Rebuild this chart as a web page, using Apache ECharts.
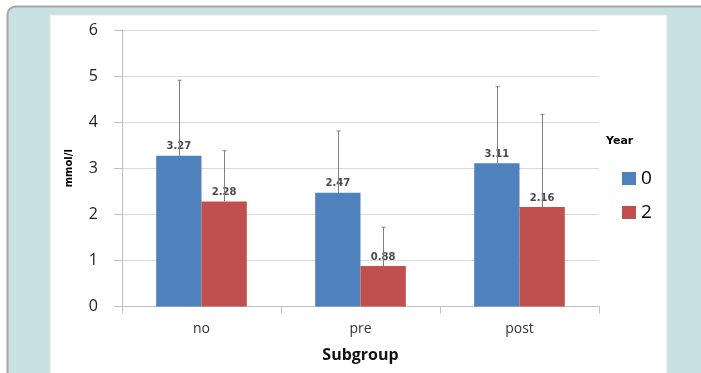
<!DOCTYPE html>
<html><head><meta charset="utf-8">
<script src="https://cdn.jsdelivr.net/npm/echarts@6/dist/echarts.min.js"></script>
<style>html,body{margin:0;padding:0;background:#fff}#c{width:701px;height:373px}</style>
</head><body><div id="c"></div>
<script>
var categories = ['no', 'pre', 'post'];
var seriesNames = ['0', '2'];
var year0 = [3.27, 2.47, 3.11];
var year2 = [2.28, 0.88, 2.16];
var year0Upper = [4.91, 3.81, 4.77];
var year2Upper = [3.38, 1.72, 4.17];
var yTicks = [0, 1, 2, 3, 4, 5, 6];

var GAP = 0.43;
function errSeries(upper, vals, idx) {
  return {
    type: 'custom', z: 5, silent: true,
    data: categories.map(function (c, i) { return [i, vals[i], upper[i]]; }),
    renderItem: function (params, api) {
      var band = api.size([1, 0])[0];
      var bw = band * (1 - GAP) / 2;
      var off = (idx === 0 ? -1 : 1) * bw / 2;
      var p0 = api.coord([api.value(0), api.value(1)]);
      var p1 = api.coord([api.value(0), api.value(2)]);
      var x = Math.round(p0[0] + off) + 0.5;
      return { type: 'group', children: [
        { type: 'line', shape: { x1: x, y1: p0[1], x2: x, y2: p1[1] }, style: { stroke: '#7f7f7f', lineWidth: 1 } },
        { type: 'line', shape: { x1: x - 2, y1: p1[1], x2: x + 2, y2: p1[1] }, style: { stroke: '#7f7f7f', lineWidth: 1 } }
      ]};
    }
  };
}
var lbl = { show: true, position: 'top', distance: 4, fontFamily: 'DejaVu Sans', fontWeight: 'bold', fontSize: 10, color: '#4a4a4a' };
var chart = echarts.init(document.getElementById('c'));
chart.setOption({
  animation: false,
  graphic: [
    { type: 'rect', z: -10, shape: { x: 7.5, y: 6.5, width: 720, height: 400, r: 8 }, style: { fill: '#c7e1e4', stroke: '#a6a6a6', lineWidth: 2 } },
    { type: 'rect', z: -9, shape: { x: 50, y: 15, width: 617, height: 370 }, style: { fill: '#ffffff', stroke: '#e6e6e6', lineWidth: 1 } },
    { type: 'text', left: 606, top: 136, style: { text: 'Year', fontFamily: 'DejaVu Sans', fontWeight: 'bold', fontSize: 11, fill: '#000' } }
  ],
  grid: { left: 122, right: 102, top: 30, bottom: 66.5 },
  legend: {
    orient: 'vertical', left: 617, top: 162, itemWidth: 14, itemHeight: 13, itemGap: 11,
    icon: 'rect', data: seriesNames,
    textStyle: { fontFamily: 'Open Sans', fontSize: 19, color: '#000', lineHeight: 23 }
  },
  xAxis: {
    type: 'category', data: categories,
    name: 'Subgroup', nameLocation: 'middle', nameGap: 41,
    nameTextStyle: { fontFamily: 'Open Sans', fontWeight: 'bold', fontSize: 16, color: '#111' },
    axisLine: { lineStyle: { color: '#bfbfbf' } },
    axisTick: { show: true, length: 7, lineStyle: { color: '#bfbfbf' } },
    axisLabel: { margin: 16, fontFamily: 'Open Sans', fontSize: 14, color: '#333' }
  },
  yAxis: {
    type: 'value', min: 0, max: 6, interval: 1,
    name: 'mmol/l', nameLocation: 'middle', nameGap: 48, nameRotate: 90,
    nameTextStyle: { fontFamily: 'DejaVu Sans', fontWeight: 'bold', fontSize: 10, color: '#000' },
    axisLine: { show: true, lineStyle: { color: '#bfbfbf' } },
    axisTick: { show: true, length: 8, lineStyle: { color: '#bfbfbf' } },
    splitLine: { lineStyle: { color: '#d9d9d9' } },
    axisLabel: { margin: 24, fontFamily: 'Open Sans', fontSize: 16, color: '#222',
      formatter: function (v) { return yTicks.indexOf(v) >= 0 ? String(v) : ''; } }
  },
  series: [
    { name: seriesNames[0], type: 'bar', data: year0, barGap: '0%', barCategoryGap: '43%', itemStyle: { color: '#4f81bd' }, label: lbl, z: 2 },
    { name: seriesNames[1], type: 'bar', data: year2, barGap: '0%', barCategoryGap: '43%', itemStyle: { color: '#c0504d' }, label: lbl, z: 2 },
    errSeries(year0Upper, year0, 0),
    errSeries(year2Upper, year2, 1)
  ]
});
</script></body></html>
